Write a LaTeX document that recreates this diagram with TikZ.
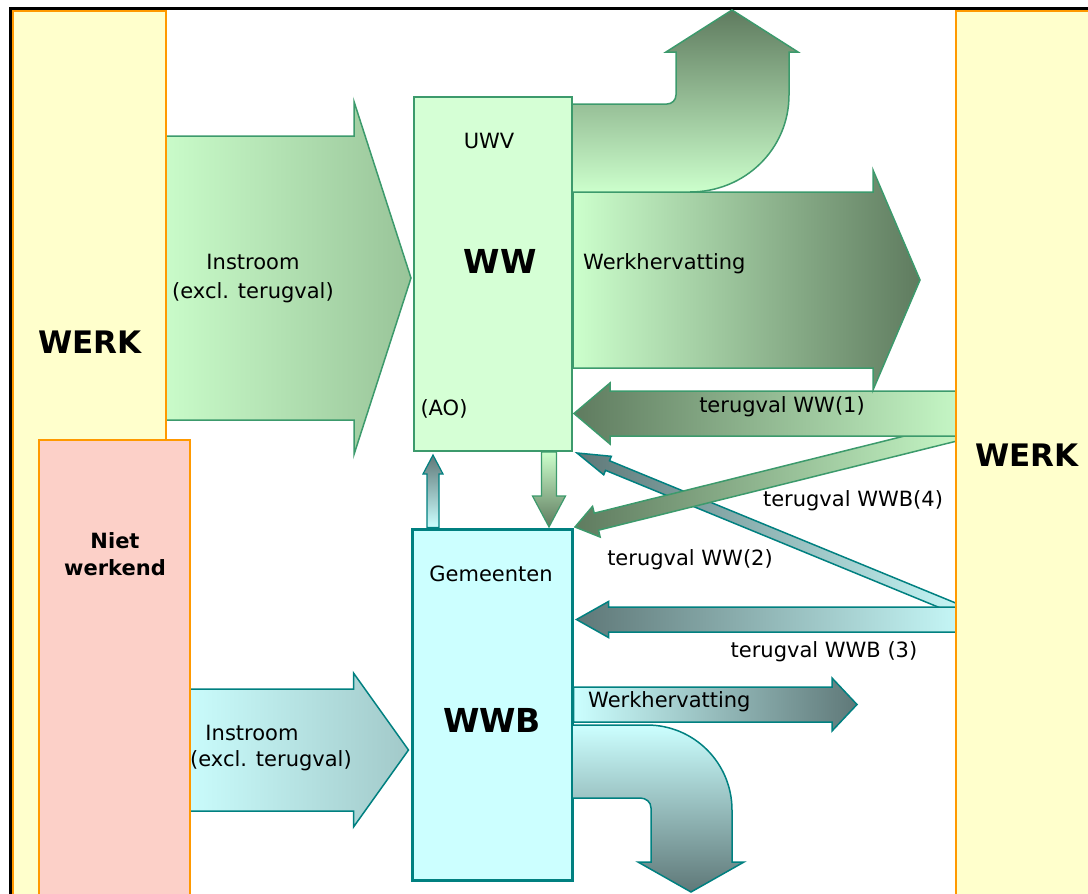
\documentclass[tikz,border=0pt]{standalone}
\usepackage{fontspec}
\setmainfont{DejaVu Sans}
\usetikzlibrary{calc}

\definecolor{werkyellow}{HTML}{FFFFCC}
\definecolor{werkorange}{HTML}{FF9900}
\definecolor{nietpink}{HTML}{FCD0C8}
\definecolor{wwfill}{HTML}{D5FFD5}
\definecolor{wwbfill}{HTML}{CCFFFF}
\definecolor{wwline}{HTML}{3C9A6C}
\definecolor{wwbline}{HTML}{008080}
\definecolor{greenlight}{HTML}{CCFFCC}
\definecolor{greendark}{HTML}{5F7B5F}
\definecolor{greenmid}{HTML}{99C499}
\definecolor{cyanlight}{HTML}{CCFFFF}
\definecolor{tealdark}{HTML}{5F7878}
\definecolor{tealmid}{HTML}{A2C9C9}

% fat arrow: [style]{start}{tip}{half shaft}{half head}{head length}
\newcommand{\fatarrow}[6][]{%
  \coordinate (fa-s) at (#2);
  \coordinate (fa-t) at (#3);
  \coordinate (fa-h) at ($(fa-t)!#6!(fa-s)$);
  \draw[#1] ($(fa-s)!#4!90:(fa-t)$) -- ($(fa-h)!#4!90:(fa-t)$)
    -- ($(fa-h)!#5!90:(fa-t)$) -- (fa-t)
    -- ($(fa-h)!#5!-90:(fa-t)$) -- ($(fa-h)!#4!-90:(fa-t)$)
    -- ($(fa-s)!#4!-90:(fa-t)$) -- cycle;
}

\begin{document}
\begin{tikzpicture}[x=1pt,y=-1pt,
    font=\fontsize{21}{29}\selectfont,
    werkbox/.style={draw=werkorange, fill=werkyellow, line width=2pt, rectangle, inner sep=0pt},
    wwbox/.style={draw=wwline, fill=wwfill, line width=2pt, rectangle, inner sep=0pt},
    wwbbox/.style={draw=wwbline, fill=wwbfill, line width=3pt, rectangle, inner sep=0pt},
    txt/.style={inner sep=0pt, align=center},
    bigtxt/.style={txt, font=\bfseries\fontsize{33}{40}\selectfont},
    werktxt/.style={txt, font=\bfseries\fontsize{31}{38}\selectfont},
    greenflow/.style={draw=wwline, line width=1.5pt},
    tealflow/.style={draw=wwbline, line width=1.5pt}]

    \clip (0,0) rectangle (1088,894);

    % frame
    \draw[line width=3pt] (10,900) -- (10,8) -- (1100,8);

    % the two offices
    \node[wwbox, minimum width=158pt, minimum height=354pt] (ww) at (493,274) {};
    \node[wwbbox, minimum width=160pt, minimum height=351pt] (wwb) at (492,704.5) {};

    % instroom
    \fatarrow[greenflow, left color=greenlight, right color=greenmid]{150,278}{$(ww.west)+(-2,4)$}{142pt}{176.5pt}{57pt}
    \fatarrow[tealflow, left color=cyanlight, right color=tealmid]{175,750}{$(wwb.west)+(-2,45.5)$}{61pt}{77pt}{55pt}
    \node[txt] (instroomww) at (253,279) {Instroom\\(excl. terugval)};
    \node[txt] (instroomwwb) at (252,733) {Instroom};
    \node[txt] (exclwwb) at (271,761) {(excl. terugval)};

    % werk and niet werkend
    \node[werkbox, minimum width=153pt, minimum height=889pt] (werkL) at (89.5,455.5) {};
    \node[werkbox, fill=nietpink, minimum width=151pt, minimum height=460pt] (niet) at (114.5,670) {};

    % terugval
    \fatarrow[tealflow, left color=tealdark, right color=cyanlight]{985,620.7}{577,453}{5.2pt}{10pt}{33pt}
    \fatarrow[greenflow, left color=greendark, right color=greenlight]{985,425}{575,527}{8.75pt}{15.8pt}{22pt}
    \fatarrow[greenflow, left color=greendark, right color=greenlight]{985,413.5}{$(ww.east)+(1,139.5)$}{22.5pt}{30.5pt}{36pt}
    \fatarrow[tealflow, left color=tealdark, right color=cyanlight]{985,619.5}{$(wwb.east)+(3,-85)$}{12.5pt}{18pt}{32pt}

    % werkhervatting
    \fatarrow[greenflow, left color=greenlight, right color=greendark]{$(ww.east)+(0,6)$}{920,280}{88pt}{110pt}{47pt}
    \fatarrow[tealflow, left color=cyanlight, right color=tealdark]{wwb.east}{857,704.5}{17.5pt}{26.5pt}{25pt}

    % uitstroom up and down
    \draw[greenflow, top color=greendark, bottom color=greenlight]
        (572,104) -- (667,104) .. controls (672,104) and (676,100) .. (676,95)
        -- (676,52) -- (666,52) -- (732,10) -- (798,52) -- (789,52) -- (789,95)
        .. controls (789,149) and (745,192) .. (690,192) -- (572,192) -- cycle;
    \draw[tealflow, top color=cyanlight, bottom color=tealdark]
        (572,725) -- (647,725) .. controls (694,725) and (732,763) .. (732,810)
        -- (732,862) -- (744,862) -- (691,892) -- (638,862) -- (651,862) -- (651,808)
        .. controls (651,802) and (646,798) .. (640,798) -- (572,798) -- cycle;

    % between WW and WWB
    \fatarrow[greenflow, line width=1.2pt, top color=greenlight, bottom color=greendark]{$(ww.south)+(56,0)$}{549,527}{7.5pt}{16.5pt}{31pt}
    \fatarrow[tealflow, line width=1.2pt, top color=tealdark, bottom color=cyanlight]{$(wwb.north)+(-59,0)$}{433,455}{6pt}{10pt}{19pt}

    \node[werkbox, minimum width=144pt, minimum height=889pt] (werkR) at (1028,455.5) {};

    % texts
    \node[werktxt] (werkLtxt) at (90,342) {WERK};
    \node[werktxt] (werkRtxt) at (1027,455) {WERK};
    \node[txt, font=\bfseries\fontsize{21}{27}\selectfont] (niettxt) at (115,554) {Niet\\werkend};
    \node[txt] (uwv) at (489,141) {UWV};
    \node[bigtxt] (wwtxt) at (500,261) {WW};
    \node[txt] (ao) at (444,409) {(AO)};
    \node[txt] (gemeenten) at (491,574) {Gemeenten};
    \node[bigtxt] (wwbtxt) at (492,720) {WWB};
    \node[txt, anchor=west] (herwww) at (583,264) {Werkhervatting};
    \node[txt, anchor=west] (herwwb) at (588,702) {Werkhervatting};
    \node[txt] (terug1) at (782,407) {terugval WW(1)};
    \node[txt] (terug4) at (853,501) {terugval WWB(4)};
    \node[txt] (terug2) at (690,560) {terugval WW(2)};
    \node[txt] (terug3) at (824,652) {terugval WWB (3)};

\end{tikzpicture}
\end{document}
